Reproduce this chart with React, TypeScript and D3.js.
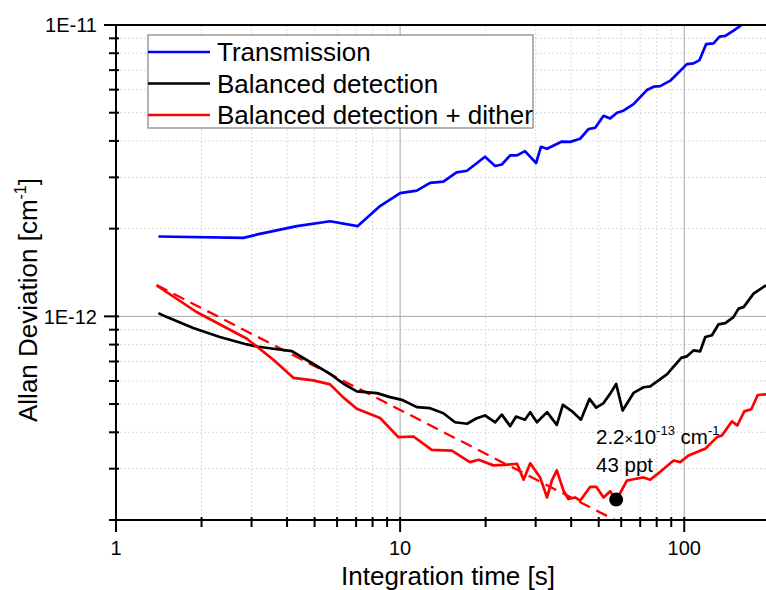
import React from 'react';
import * as d3 from 'd3';

// values
const transmissionTime = [1.41, 2.81, 3.21, 4.33, 5.67, 7.08, 8.5, 10, 11.45, 12.75, 14.2, 15.8, 17.2, 19.9, 21.6, 22.8, 24.4, 25.8, 27.5, 30.1, 31.3, 32.9, 37.1, 39.7, 43.0, 46.0, 48.6, 52.0, 54.9, 58.0, 61.1, 66.3, 73.9, 78.0, 82.3, 89.3, 102.2, 107.8, 113.2, 119.5, 126.8, 133.1, 139.5, 149.1, 157.4, 170];
const transmissionDev = [1.88e-12, 1.86e-12, 1.92e-12, 2.04e-12, 2.12e-12, 2.04e-12, 2.39e-12, 2.65e-12, 2.70e-12, 2.87e-12, 2.90e-12, 3.12e-12, 3.16e-12, 3.53e-12, 3.28e-12, 3.32e-12, 3.57e-12, 3.57e-12, 3.69e-12, 3.36e-12, 3.82e-12, 3.76e-12, 3.98e-12, 3.97e-12, 4.07e-12, 4.39e-12, 4.44e-12, 4.88e-12, 4.78e-12, 5.0e-12, 5.08e-12, 5.35e-12, 5.98e-12, 6.14e-12, 6.17e-12, 6.44e-12, 7.34e-12, 7.38e-12, 7.58e-12, 8.60e-12, 8.65e-12, 9.12e-12, 9.17e-12, 9.56e-12, 9.92e-12, 10.6e-12];

const balancedTime = [1.41, 1.51, 1.87, 2.32, 2.89, 3.13, 3.58, 4.16, 4.82, 5.67, 6.32, 7.04, 8.28, 9.22, 10.14, 11.45, 12.75, 14.2, 15.6, 17.2, 18.6, 19.9, 21.6, 22.8, 24.4, 25.6, 27.5, 28.7, 30.3, 32.9, 35.6, 37.4, 40.2, 43.3, 46.4, 49.0, 52.0, 54.9, 57.6, 60.7, 66.3, 71.9, 75.9, 86.9, 97.6, 102.2, 107.8, 113.8, 118.6, 125.2, 132.1, 139.5, 149.1, 155.3, 161.8, 175.4, 194];
const balancedDev = [10.26e-13, 9.94e-13, 9.12e-13, 8.49e-13, 8.01e-13, 7.88e-13, 7.74e-13, 7.60e-13, 6.97e-13, 6.35e-13, 5.87e-13, 5.53e-13, 5.45e-13, 5.28e-13, 5.17e-13, 4.88e-13, 4.84e-13, 4.65e-13, 4.33e-13, 4.28e-13, 4.47e-13, 4.57e-13, 4.33e-13, 4.60e-13, 4.20e-13, 4.53e-13, 4.42e-13, 4.69e-13, 4.33e-13, 4.69e-13, 4.24e-13, 4.97e-13, 4.73e-13, 4.42e-13, 5.21e-13, 4.86e-13, 5.04e-13, 5.43e-13, 5.86e-13, 4.75e-13, 5.46e-13, 5.71e-13, 5.75e-13, 6.32e-13, 7.20e-13, 7.29e-13, 7.64e-13, 7.58e-13, 8.49e-13, 8.61e-13, 9.39e-13, 9.48e-13, 9.94e-13, 10.63e-13, 10.76e-13, 11.97e-13, 12.78e-13];

const ditherTime = [1.39, 1.92, 2.89, 3.58, 4.21, 4.95, 5.67, 6.32, 7.04, 8.5, 9.86, 11.14, 12.93, 15.2, 17.6, 18.9, 21.3, 23.4, 25.8, 27.2, 28.7, 31.1, 32.9, 34.2, 35.6, 37.6, 39.1, 41.3, 43.0, 46.7, 49.0, 52.0, 54.9, 57.6, 62.8, 66.3, 71.9, 75.9, 81.0, 91.7, 96.8, 103.5, 113.8, 118.6, 130.4, 135.7, 147.2, 153.7, 162.7, 172.2, 181.5, 194];
const ditherDev = [12.78e-13, 10.35e-13, 8.38e-13, 7.10e-13, 6.15e-13, 6.03e-13, 5.84e-13, 5.26e-13, 4.82e-13, 4.48e-13, 3.85e-13, 3.87e-13, 3.48e-13, 3.46e-13, 3.16e-13, 3.22e-13, 3.08e-13, 3.09e-13, 3.12e-13, 2.75e-13, 3.13e-13, 2.80e-13, 2.39e-13, 2.73e-13, 2.96e-13, 2.52e-13, 2.36e-13, 2.39e-13, 2.33e-13, 2.60e-13, 2.60e-13, 2.39e-13, 2.51e-13, 2.33e-13, 2.73e-13, 2.76e-13, 2.80e-13, 2.75e-13, 2.89e-13, 3.20e-13, 3.16e-13, 3.33e-13, 3.46e-13, 3.51e-13, 3.85e-13, 3.90e-13, 4.36e-13, 4.22e-13, 4.72e-13, 4.80e-13, 5.37e-13, 5.40e-13];

// tau^-1/2 guide line (dashed)
const fitTime = [1.39, 60];
const fitDev = [12.8e-13, 1.95e-13];

const minimumPoint = [57.6, 2.35e-13];

const xTickLabels = ['1', '10', '100'];
const yTickLabels = ['1E-11', '1E-12'];
const legendLabels = ['Transmission', 'Balanced detection', 'Balanced detection + dither'];
const legendColors = ['#0000ff', '#000000', '#ff0000'];

const width = 766;
const height = 590;
const left = 116, right = 766, top = 25, bottom = 520;
const font = '"Liberation Sans", Arial, sans-serif';

function App() {
  const x = d3.scaleLog().domain([1, 194]).range([left, right]);
  const y = d3.scaleLog().domain([2e-13, 1e-11]).range([bottom, top]);

  const line = d3.line<number[]>().x(d => x(d[0])).y(d => y(d[1]));
  const pts = (t: number[], v: number[]) => t.map((tt, i) => [tt, v[i]]);

  const xMinor: number[] = [];
  [1, 10, 100].forEach(dec => {
    for (let k = 2; k <= 9; k++) if (dec * k < 194) xMinor.push(dec * k);
  });
  const yMinor: number[] = [];
  [1e-13, 1e-12].forEach(dec => {
    for (let k = 2; k <= 9; k++) if (dec * k >= 2e-13) yMinor.push(dec * k);
  });
  const xMajor = [1, 10, 100];
  const yMajor = [1e-11, 1e-12];

  return (
    <svg width={width} height={height} style={{ position: 'absolute', left: 0, top: 0, background: '#fff' }}
      fontFamily={font}>
      <defs>
        <clipPath id="plot">
          <rect x={left} y={top} width={right - left} height={bottom - top} />
        </clipPath>
      </defs>

      {/* grid */}
      {xMinor.map(v => (
        <line key={'gx' + v} x1={x(v)} x2={x(v)} y1={top} y2={bottom} stroke="#d9d9d9" strokeDasharray="2,2" />
      ))}
      {yMinor.map(v => (
        <line key={'gy' + v} x1={left} x2={right} y1={y(v)} y2={y(v)} stroke="#d9d9d9" strokeDasharray="2,2" />
      ))}
      {[10, 100].map(v => (
        <line key={'Gx' + v} x1={x(v)} x2={x(v)} y1={top} y2={bottom} stroke="#a6a6a6" />
      ))}
      <line x1={left} x2={right} y1={y(1e-12)} y2={y(1e-12)} stroke="#a6a6a6" />

      {/* series */}
      <g clipPath="url(#plot)" fill="none" strokeLinejoin="round">
        <path d={line(pts(fitTime, fitDev)) || ''} stroke="#ff0000" strokeWidth={2.3} strokeDasharray="12,7" />
        <path d={line(pts(balancedTime, balancedDev)) || ''} stroke="#000" strokeWidth={2.7} />
        <path d={line(pts(ditherTime, ditherDev)) || ''} stroke="#ff0000" strokeWidth={2.7} />
        <path d={line(pts(transmissionTime, transmissionDev)) || ''} stroke="#0000ff" strokeWidth={2.7} />
      </g>
      <circle cx={x(minimumPoint[0])} cy={y(minimumPoint[1])} r={7} fill="#000" />

      {/* annotation */}
      <text x={596} y={444} fontSize={20.5} fill="#000">
        2.2<tspan fontSize={15}>×</tspan>10<tspan fontSize={13} dy={-9}>-13</tspan>
        <tspan dy={9}> cm</tspan><tspan fontSize={13} dy={-9}>-1</tspan>
      </text>
      <text x={596} y={472} fontSize={20.5} fill="#000">43 ppt</text>

      {/* axes */}
      <line x1={left} x2={left} y1={top} y2={bottom} stroke="#000" strokeWidth={2} />
      <line x1={left} x2={right} y1={bottom} y2={bottom} stroke="#000" strokeWidth={2} />
      <line x1={left} x2={right} y1={top} y2={top} stroke="#000" strokeWidth={2} />
      {yMajor.map(v => (
        <line key={'ty' + v} x1={left - 12} x2={left + 3} y1={y(v)} y2={y(v)} stroke="#000" strokeWidth={2} />
      ))}
      {yMinor.map(v => (
        <line key={'tyn' + v} x1={left - 7} x2={left + 3} y1={y(v)} y2={y(v)} stroke="#000" strokeWidth={2} />
      ))}
      {xMajor.map(v => (
        <line key={'tx' + v} x1={x(v)} x2={x(v)} y1={bottom - 3} y2={bottom + 12} stroke="#000" strokeWidth={2} />
      ))}
      {xMinor.map(v => (
        <line key={'txn' + v} x1={x(v)} x2={x(v)} y1={bottom - 3} y2={bottom + 7} stroke="#000" strokeWidth={2} />
      ))}
      {yMajor.map((v, i) => (
        <text key={'ly' + v} x={97} y={y(v)} dy="0.36em" textAnchor="end" fontSize={20}>{yTickLabels[i]}</text>
      ))}
      {xMajor.map((v, i) => (
        <text key={'lx' + v} x={x(v)} y={555} textAnchor="middle" fontSize={20}>{xTickLabels[i]}</text>
      ))}

      <text x={448} y={585} textAnchor="middle" fontSize={26}>Integration time [s]</text>
      <text transform="translate(37,300) rotate(-90)" textAnchor="middle" fontSize={26}>
        Allan Deviation [cm<tspan fontSize={16} dy={-11}>-1</tspan><tspan dy={11}>]</tspan>
      </text>

      {/* legend */}
      <rect x={148} y={35} width={385} height={93} fill="#fff" stroke="#808080" strokeWidth={1.2} />
      {legendLabels.map((lab, i) => (
        <g key={lab} transform={`translate(148,${52 + i * 31.5})`}>
          <line x1={0} x2={62} y1={0} y2={0} stroke={legendColors[i]} strokeWidth={2.5} />
          <text x={69} y={0} dy="0.36em" fontSize={26}>{lab}</text>
        </g>
      ))}
    </svg>
  );
}

export default App;
